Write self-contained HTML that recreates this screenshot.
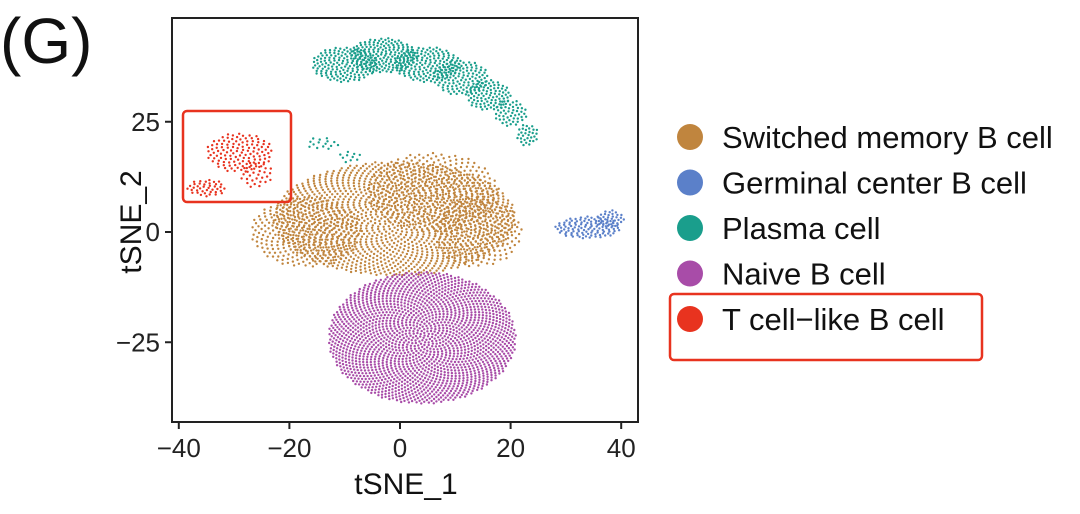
<!DOCTYPE html>
<html><head><meta charset="utf-8"><style>
body{margin:0;background:#fff;}
svg{display:block;font-family:"Liberation Sans",Arial,sans-serif;}
</style></head><body>
<svg id="chart" width="1080" height="514" viewBox="0 0 1080 514">
<text x="0" y="63" font-size="64" fill="#111">(G)</text>
<rect x="172" y="18" width="466" height="404" fill="#fff" stroke="#222" stroke-width="2"/>
<g id="points"></g>
<g id="axes"></g>
<text x="406" y="494" font-size="30" text-anchor="middle" fill="#111">tSNE_1</text>
<text transform="translate(141,222) rotate(-90)" font-size="30" text-anchor="middle" fill="#111">tSNE_2</text>
<rect x="183" y="111" width="108" height="91" rx="4" fill="none" stroke="#e8331f" stroke-width="2.5"/>
<g id="legend"></g>
<rect x="670" y="294" width="312" height="66" rx="4" fill="none" stroke="#e8331f" stroke-width="2.5"/>
</svg>
<script>
const NS="http://www.w3.org/2000/svg";
const xTicks=[-40,-20,0,20,40];
const yTicks=[25,0,-25];
const categories=["Switched memory B cell","Germinal center B cell","Plasma cell","Naive B cell","T cell\u2212like B cell"];
const colors=["#c0853e","#5b80c9","#1a9e8c","#a84ca8","#e8331f"];
// blobs per cluster: [cx, cy, rx, ry, count] in tSNE units
const memoryBlobs=[[-1,3,22,13,1500],[-17,0,10,8,300],[6,9,12,9,350],[14,0,8,8,200]];
const germinalBlobs=[[34,1,6,2.5,110],[38,3,2.5,2,35]];
const plasmaBlobs=[[-10,38,6,4,160],[-3,40,6,4,180],[5,38,6,4,160],[11,35,5,4,120],[16,31,4,3.5,90],[20,27,3,3,50],[23,22,2,2.5,30],[-14,20,3,1.5,15],[-9,17,2,1.5,10]];
const naiveBlobs=[[4,-24,17,15,1900]];
const tcellBlobs=[[-29,18,6,4.5,120],[-26,13,3,3,30],[-35,10,3.5,2,40]];
const clusters=[memoryBlobs,germinalBlobs,plasmaBlobs,naiveBlobs,tcellBlobs];
const X=v=>400+v*5.53, Y=v=>232-v*4.41;
function mk(t,a,p){const e=document.createElementNS(NS,t);for(const k in a)e.setAttribute(k,a[k]);(p||document.getElementById('chart')).appendChild(e);return e;}
const axes=document.getElementById('axes');
xTicks.forEach(t=>{
 const l=mk('line',{x1:X(t),x2:X(t),y1:422,y2:429,stroke:'#222','stroke-width':2},axes);
 
 const tx=mk('text',{x:X(t),y:457,'font-size':26,'text-anchor':'middle',fill:'#222'},axes);
 tx.textContent=t<0?'\u2212'+(-t):t;
 
});
yTicks.forEach(t=>{
 const l=mk('line',{x1:165,x2:172,y1:Y(t),y2:Y(t),stroke:'#222','stroke-width':2},axes);
 
 const tx=mk('text',{x:160,y:Y(t)+9,'font-size':26,'text-anchor':'end',fill:'#222'},axes);
 tx.textContent=t<0?'\u2212'+(-t):t;
 
});
const pts=document.getElementById('points');
const GA=Math.PI*(3-Math.sqrt(5));
clusters.forEach((blobs,ci)=>{
 const g=mk('g',{fill:colors[ci]},pts);
 
 blobs.forEach(b=>{
  const [cx,cy,rx,ry,n]=b;
  for(let i=0;i<n;i++){
   const r=Math.sqrt((i+0.5)/n), a=i*GA;
   const c=mk('circle',{cx:X(cx+rx*r*Math.cos(a)).toFixed(1),cy:Y(cy+ry*r*Math.sin(a)).toFixed(1),r:1.2},g);
   
   
  }
 });
});
const lg=document.getElementById('legend');
categories.forEach((c,i)=>{
 const y=137+i*45.5;
 const ci=mk('circle',{cx:690,cy:y,r:13,fill:colors[i]},lg);
 
 const t=mk('text',{x:722,y:y+11,'font-size':31,fill:'#111'},lg);
 t.textContent=c;
 
});
</script>
</body></html>
